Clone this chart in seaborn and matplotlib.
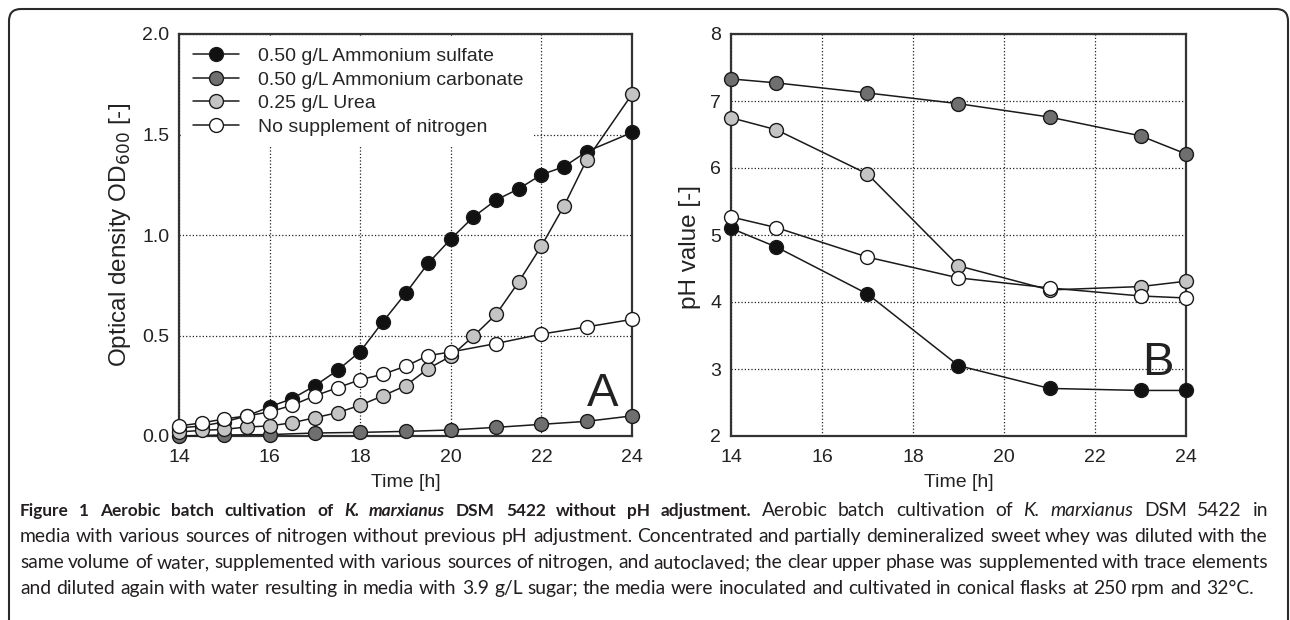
import numpy as np
import pandas as pd
import matplotlib
matplotlib.use("Agg")
import matplotlib.pyplot as plt
import seaborn as sns
from matplotlib.patches import FancyBboxPatch

# ---- panel A: optical density ----
t_sulfate = [14, 14.5, 15, 15.5, 16, 16.5, 17, 17.5, 18, 18.5, 19, 19.5, 20, 20.5, 21, 21.5, 22, 22.5, 23, 24]
od_sulfate = [0.04, 0.05, 0.07, 0.10, 0.145, 0.186, 0.25, 0.327, 0.42, 0.568, 0.709, 0.859, 0.98, 1.09,
              1.174, 1.23, 1.30, 1.34, 1.415, 1.51]
t_carbonate = [14, 15, 16, 17, 18, 19, 20, 21, 22, 23, 24]
od_carbonate = [0.0, 0.005, 0.007, 0.015, 0.018, 0.023, 0.03, 0.043, 0.058, 0.073, 0.10]
t_urea = [14, 14.5, 15, 15.5, 16, 16.5, 17, 17.5, 18, 18.5, 19, 19.5, 20, 20.5, 21, 21.5, 22, 22.5, 23, 24]
od_urea = [0.02, 0.028, 0.033, 0.045, 0.05, 0.066, 0.091, 0.116, 0.153, 0.2, 0.25, 0.335, 0.397, 0.497,
           0.605, 0.767, 0.945, 1.145, 1.374, 1.70]
t_none = [14, 14.5, 15, 15.5, 16, 16.5, 17, 17.5, 18, 18.5, 19, 19.5, 20, 21, 22, 23, 24]
od_none = [0.05, 0.065, 0.085, 0.10, 0.12, 0.153, 0.20, 0.24, 0.28, 0.307, 0.347, 0.40, 0.418, 0.46,
           0.507, 0.543, 0.58]

# ---- panel B: pH ----
t_ph = [14, 15, 17, 19, 21, 23, 24]
ph_sulfate = [5.10, 4.82, 4.12, 3.05, 2.71, 2.68, 2.68]
ph_carbonate = [7.33, 7.27, 7.12, 6.96, 6.76, 6.48, 6.21]
ph_urea = [6.75, 6.57, 5.91, 4.54, 4.18, 4.23, 4.31]
ph_none = [5.27, 5.11, 4.67, 4.36, 4.21, 4.09, 4.06]

labels = ["0.50 g/L Ammonium sulfate", "0.50 g/L Ammonium carbonate",
          "0.25 g/L Urea", "No supplement of nitrogen"]
face = ["#111111", "#6f6f6f", "#c4c4c4", "#ffffff"]

sns.set_theme(style="ticks")
plt.rcParams['font.family'] = ['Liberation Sans', 'DejaVu Sans']

W, H = 1290, 620
fs = 14
fig = plt.figure(figsize=(12.9, 6.2), dpi=100)
ax1 = fig.add_axes([179 / W, 1 - 436 / H, 453 / W, 402 / H])
ax2 = fig.add_axes([731 / W, 1 - 436 / H, 455 / W, 402 / H])

od_sets = [(t_sulfate, od_sulfate), (t_carbonate, od_carbonate), (t_urea, od_urea), (t_none, od_none)]
ph_sets = [ph_sulfate, ph_carbonate, ph_urea, ph_none]
draw_order = [1, 0, 2, 3]

for i in draw_order:
    t, v = od_sets[i]
    sns.lineplot(x=t, y=v, ax=ax1, color="#1a1a1a", lw=1.1, marker="o", markersize=10,
                 markerfacecolor=face[i], markeredgecolor="#1a1a1a", markeredgewidth=1.0,
                 label=labels[i], clip_on=False, zorder=3 + i)
    sns.lineplot(x=t_ph, y=ph_sets[i], ax=ax2, color="#1a1a1a", lw=1.1, marker="o", markersize=10,
                 markerfacecolor=face[i], markeredgecolor="#1a1a1a", markeredgewidth=1.0,
                 clip_on=False, zorder=3 + i)

handles, labs = ax1.get_legend_handles_labels()
order = [labs.index(l) for l in labels]
leg = ax1.legend([handles[k] for k in order], [labs[k] for k in order], loc="upper left",
                 frameon=True, facecolor="white", edgecolor="none", framealpha=1, fancybox=False,
                 fontsize=fs, handlelength=2.4, handletextpad=0.95, labelspacing=0.3,
                 borderpad=0.55, borderaxespad=0.15)
leg.set_zorder(2.5)

for ax in (ax1, ax2):
    ax.set_xlim(14, 24)
    ax.set_xticks([14, 16, 18, 20, 22, 24])
    ax.grid(True, ls=":", color="#222222", lw=0.9)
    ax.set_axisbelow(True)
    ax.tick_params(length=0, labelsize=fs, pad=9, colors="#222222")
    ax.tick_params(axis="y", pad=7)
    for s in ax.spines.values():
        s.set_visible(True)
        s.set_linewidth(1.6)
        s.set_color("#333333")
    ax.set_xlabel("Time [h]", fontsize=fs, labelpad=6, color="#222222")

ax1.set_ylim(0, 2.0)
ax1.set_yticks([0, 0.5, 1.0, 1.5, 2.0])
ax1.set_yticklabels(["0.0", "0.5", "1.0", "1.5", "2.0"])
ax1.set_ylabel("Optical density OD$_{600}$ [-]", fontsize=17.5, color="#222222")
ax1.yaxis.set_label_coords(-0.102, 0.5)
ax2.set_ylim(2, 8)
ax2.set_yticks([2, 3, 4, 5, 6, 7, 8])
ax2.set_ylabel("pH value [-]", fontsize=17.5, color="#222222")
ax2.yaxis.set_label_coords(-0.066, 0.47)
if ax2.get_legend() is not None:
    ax2.get_legend().remove()

ax1.text(23.35, 0.21, "A", fontsize=34, ha="center", va="center", color="#222222", zorder=10)
ax2.text(23.38, 3.09, "B", fontsize=34, ha="center", va="center", color="#222222", zorder=10)

# frame around the figure
bg = fig.add_axes([0, 0, 1, 1], zorder=-1)
bg.set_xlim(0, W)
bg.set_ylim(H, 0)
bg.axis("off")
bg.add_patch(FancyBboxPatch((9, 9), 1279, 700, boxstyle="round,pad=0,rounding_size=12",
                            fill=False, lw=1.5, ec="#2a2a2a", clip_on=False))

# caption (justified text, placed word by word)
cap_font = ['Lato', 'DejaVu Sans']
cs = 13.85
cc = "#231f20"
renderer = fig.canvas.get_renderer()

caption = [
    [("Figure 1 Aerobic batch cultivation of", "bold", "normal"),
     ("K. marxianus", "bold", "italic"),
     ("DSM 5422 without pH adjustment.", "bold", "normal"),
     ("Aerobic batch cultivation of", "normal", "normal"),
     ("K. marxianus", "normal", "italic"),
     ("DSM 5422 in", "normal", "normal")],
    [("media with various sources of nitrogen without previous pH adjustment. Concentrated and partially demineralized sweet whey was diluted with the", "normal", "normal")],
    [("same volume of water, supplemented with various sources of nitrogen, and autoclaved; the clear upper phase was supplemented with trace elements", "normal", "normal")],
    [("and diluted again with water resulting in media with 3.9 g/L sugar; the media were inoculated and cultivated in conical flasks at 250 rpm and 32\u00b0C.", "normal", "normal")],
]

probe = bg.text(0, 0, "a a", fontsize=cs, family=cap_font)
w_sp = probe.get_window_extent(renderer).width
probe.set_text("aa")
w_sp -= probe.get_window_extent(renderer).width
probe.remove()

x_left, x_right = 20, 1268
for k, segs in enumerate(caption):
    y = 516 + 26 * k
    arts = []
    for s, w, st in segs:
        for word in s.split(" "):
            arts.append(bg.text(0, y, word, fontsize=cs * (0.9 if w == "bold" else 1.0),
                                fontweight=w, fontstyle=st, family=cap_font, color=cc,
                                ha="left", va="baseline"))
    widths = [a.get_window_extent(renderer).width for a in arts]
    if k < len(caption) - 1:
        gap = (x_right - x_left - sum(widths)) / (len(arts) - 1)
    else:
        gap = w_sp
    x = x_left
    for a, wd in zip(arts, widths):
        a.set_x(round(x))
        x += wd + gap

fig.savefig("out.png", dpi=100)
